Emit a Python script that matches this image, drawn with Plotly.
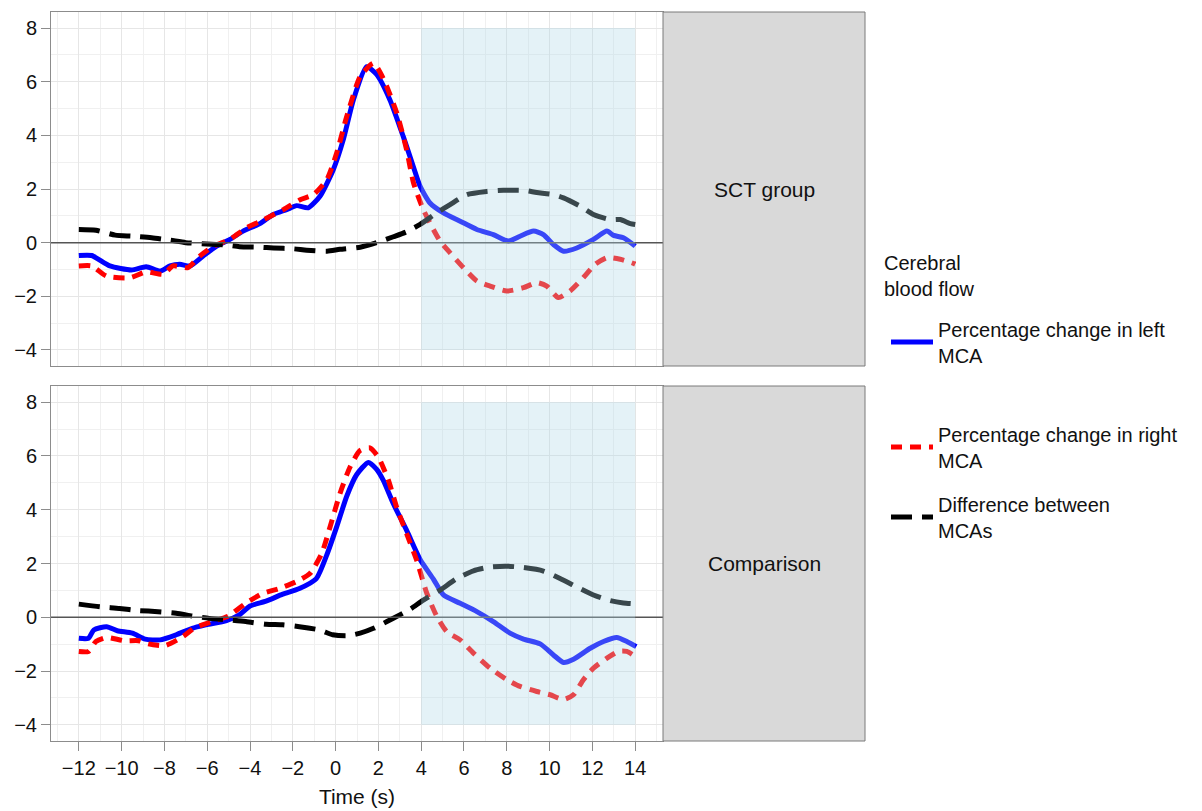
import plotly.graph_objects as go

W, H = 1202, 811
OFF = 8                      # browser body margin
FW, FH = W - OFF, H - OFF    # figure size so the page fits the window
FONT = "Liberation Sans, Arial, Helvetica, sans-serif"

# ---------------- data ----------------
sct_left_t = [-12, -11.4, -10.55, -9.54, -8.85, -8.2, -7.74, -7.28, -6.8, -6.19, -5.56, -4.94, -4.32, -3.54,
              -2.91, -2.29, -1.82, -1.28, -0.73, -0.11, 0.36, 0.83, 1.45, 1.92, 2.54, 3.16, 3.63, 3.95, 4.41,
              5.04, 5.82, 6.6, 7.37, 8.08, 8.62, 9.25, 9.71, 10.18, 10.65, 11.27, 12.05, 12.68, 12.99, 13.45, 14.0]
sct_left_v = [-0.48, -0.48, -0.87, -1.02, -0.9, -1.06, -0.87, -0.81, -0.87, -0.5, -0.13, 0.12, 0.43, 0.71,
              1.05, 1.23, 1.38, 1.3, 1.73, 2.72, 3.84, 5.32, 6.56, 6.27, 5.32, 3.96, 2.84, 2.1, 1.48,
              1.11, 0.8, 0.49, 0.3, 0.06, 0.24, 0.43, 0.3, -0.07, -0.32, -0.2, 0.12, 0.43, 0.27, 0.18, -0.13]

sct_right_t = [-12, -11.4, -10.7, -9.6, -8.85, -8.05, -7.6, -6.9, -6.35, -5.7, -4.94, -4.17, -3.38, -2.44,
               -1.66, -1.04, -0.41, 0.05, 0.52, 1.15, 1.77, 2.24, 2.86, 3.32, 3.64, 4.1, 4.57, 4.88, 5.35,
               5.97, 6.6, 7.22, 8.0, 8.78, 9.4, 9.87, 10.41, 10.96, 11.58, 12.13, 12.68, 13.3, 13.84, 14.0]
sct_right_v = [-0.87, -0.87, -1.25, -1.31, -1.09, -1.18, -0.87, -0.93, -0.5, -0.13, 0.12, 0.55, 0.85, 1.23,
               1.6, 1.79, 2.35, 3.34, 4.7, 6.19, 6.69, 6.1, 4.83, 3.46, 2.23, 1.23, 0.49, 0.06, -0.38,
               -0.93, -1.43, -1.62, -1.8, -1.68, -1.49, -1.62, -2.05, -1.8, -1.3, -0.81, -0.56, -0.62, -0.75, -0.8]

sct_diff_t = [-12, -11.2, -10.3, -9.5, -8.6, -7.74, -7.0, -6.04, -5.1, -4.5, -3.54, -2.9, -1.97, -1.35,
              -0.4, 0.2, 1.15, 1.92, 2.7, 3.3, 3.95, 4.73, 5.35, 6.13, 7.06, 7.84, 8.78, 9.4, 10.18,
              10.65, 11.43, 12.05, 12.83, 13.3, 13.77, 14.0]
sct_diff_v = [0.49, 0.46, 0.28, 0.24, 0.18, 0.09, 0.0, -0.05, -0.09, -0.15, -0.17, -0.2, -0.23, -0.28,
              -0.32, -0.25, -0.17, 0.0, 0.22, 0.4, 0.68, 1.11, 1.42, 1.79, 1.91, 1.95, 1.95, 1.87, 1.79,
              1.67, 1.36, 1.05, 0.86, 0.86, 0.71, 0.68]

cmp_left_t = [-12, -11.55, -11.3, -10.7, -10.2, -9.5, -8.9, -8.2, -7.45, -6.7, -6.05, -5.1, -4.5, -4.0,
              -3.25, -2.47, -1.69, -0.9, -0.42, 0.05, 0.52, 0.98, 1.53, 1.92, 2.23, 2.7, 3.32, 3.95, 4.57,
              5.04, 5.82, 6.6, 7.37, 8.15, 8.78, 9.56, 10.18, 10.65, 11.12, 11.9, 12.52, 13.14, 13.61, 14.05]
cmp_left_v = [-0.78, -0.78, -0.47, -0.35, -0.5, -0.59, -0.81, -0.84, -0.65, -0.41, -0.28, -0.12, 0.09, 0.42,
              0.6, 0.86, 1.07, 1.44, 2.3, 3.36, 4.5, 5.3, 5.76, 5.5, 5.09, 4.22, 3.23, 2.15, 1.42,
              0.83, 0.52, 0.21, -0.16, -0.59, -0.81, -0.99, -1.4, -1.68, -1.56, -1.15, -0.9, -0.75, -0.9, -1.09]

cmp_right_t = [-12, -11.55, -11.2, -10.7, -9.9, -9.2, -8.75, -7.97, -7.2, -6.56, -5.78, -5.0, -4.2, -3.4,
               -2.63, -1.85, -1.2, -0.65, -0.26, 0.2, 0.67, 1.14, 1.6, 2.0, 2.47, 2.85, 3.32, 3.79, 4.26,
               4.72, 5.19, 5.82, 6.44, 7.22, 8.0, 8.62, 9.4, 10.02, 10.65, 11.12, 11.58, 12.05, 12.68,
               13.22, 13.61, 14.0]
cmp_right_v = [-1.27, -1.27, -0.9, -0.75, -0.87, -0.87, -0.99, -1.05, -0.75, -0.38, -0.16, 0.05, 0.52, 0.89,
               1.07, 1.32, 1.63, 2.37, 3.36, 4.59, 5.58, 6.2, 6.3, 5.95, 5.09, 4.1, 3.11, 2.12, 0.9,
               0.05, -0.53, -0.84, -1.33, -1.89, -2.32, -2.57, -2.76, -2.88, -3.06, -2.88, -2.32, -1.89, -1.52,
               -1.27, -1.27, -1.46]

cmp_diff_t = [-12, -11.0, -10.1, -9.2, -8.3, -7.45, -6.7, -5.9, -5.0, -4.2, -3.25, -2.47, -1.69, -0.76,
              -0.14, 0.52, 1.15, 1.77, 2.4, 3.0, 3.48, 4.1, 4.88, 5.66, 6.44, 7.22, 8.0, 8.78, 9.71,
              10.49, 11.27, 12.05, 12.83, 13.45, 14.0]
cmp_diff_v = [0.49, 0.39, 0.33, 0.25, 0.21, 0.15, 0.05, -0.04, -0.1, -0.16, -0.26, -0.28, -0.35, -0.47,
              -0.65, -0.69, -0.59, -0.41, -0.16, 0.09, 0.3, 0.64, 1.01, 1.44, 1.73, 1.87, 1.9, 1.85, 1.72,
              1.44, 1.13, 0.83, 0.62, 0.53, 0.5]

panels = ["SCT group", "Comparison"]
legend_title = "Cerebral<br>blood flow"
series_names = ["Percentage change in left<br>MCA",
                "Percentage change in right<br>MCA",
                "Difference between<br>MCAs"]
x_ticks = list(range(-12, 15, 2))
y_ticks = list(range(-4, 9, 2))
window = (4, 14, -4, 8)   # highlighted window: x0, x1, y0, y1

# ---------------- layout geometry (screen pixels -> paper) ----------------
def px(x):
    return (x - OFF) / FW

def py(y):
    return 1 - (y - OFF) / FH

xdom = [px(51), px(663)]
ydoms = [[py(366), py(12)], [py(741), py(386)]]
strip_x = [px(663), px(865)]

fig = go.Figure()

styles = [
    dict(color="#0000ff", width=5, dash="solid", shape="spline", smoothing=0.6),
    dict(color="#ff0000", width=5, dash="11px,8px", shape="spline", smoothing=0.6),
    dict(color="#000000", width=5, dash="21px,10px", shape="spline", smoothing=0.6),
]
legends = ["legend", "legend2", "legend3"]

data = [
    [(sct_left_t, sct_left_v), (sct_right_t, sct_right_v), (sct_diff_t, sct_diff_v)],
    [(cmp_left_t, cmp_left_v), (cmp_right_t, cmp_right_v), (cmp_diff_t, cmp_diff_v)],
]

for p, panel in enumerate(data):
    xa = "x" if p == 0 else "x2"
    ya = "y" if p == 0 else "y2"
    for s, (t, v) in enumerate(panel):
        fig.add_trace(go.Scatter(
            x=t, y=v, mode="lines", name=series_names[s],
            line=styles[s], xaxis=xa, yaxis=ya,
            showlegend=(p == 0), legend=legends[s],
            hoverinfo="skip",
        ))

GRID = "#e6e6e6"
MINOR = "#f0f0f0"
BORDER = "#8c8c8c"
TICKC = "#8c8c8c"
TXT = "#111111"

def xaxis(domain, anchor, show_labels):
    return dict(
        domain=domain, anchor=anchor, range=[-13.3, 15.3],
        tickmode="array", tickvals=x_ticks,
        showticklabels=show_labels, ticks="outside" if show_labels else "",
        ticklen=9, tickcolor=TICKC, tickwidth=1,
        showgrid=True, gridcolor=GRID, gridwidth=1,
        minor=dict(dtick=1, tick0=1, showgrid=True, gridcolor=MINOR, gridwidth=1, ticks=""),
        showline=True, linecolor=BORDER, linewidth=1, mirror=True,
        zeroline=False,
        tickfont=dict(family=FONT, size=20, color=TXT),
    )

def yaxis(domain, anchor):
    return dict(
        domain=domain, anchor=anchor, range=[-4.6, 8.6],
        tickmode="array", tickvals=y_ticks,
        ticks="outside", ticklen=9, tickcolor=TICKC, tickwidth=1,
        showgrid=True, gridcolor=GRID, gridwidth=1,
        minor=dict(dtick=1, tick0=1, showgrid=True, gridcolor=MINOR, gridwidth=1, ticks=""),
        showline=True, linecolor=BORDER, linewidth=1, mirror=True,
        zeroline=False,
        tickfont=dict(family=FONT, size=20, color=TXT),
    )

x2 = xaxis(xdom, "y2", True)
x2["title"] = dict(text="Time (s)", font=dict(family=FONT, size=21, color=TXT), standoff=11)
x1 = xaxis(xdom, "y", False)
x1["matches"] = "x2"

shapes = []
annotations = []
for p in range(2):
    xr = "x" if p == 0 else "x2"
    yr = "y" if p == 0 else "y2"
    # zero line
    shapes.append(dict(type="line", xref=f"{xr} domain", yref=yr, x0=0, x1=1, y0=0, y1=0,
                       line=dict(color="#555555", width=1.5), layer="above"))
    # highlighted window (drawn on top, translucent)
    shapes.append(dict(type="rect", xref=xr, yref=yr, x0=window[0], x1=window[1],
                       y0=window[2], y1=window[3], fillcolor="rgba(173,216,230,0.33)",
                       line=dict(width=0), layer="above"))
    # facet strip
    shapes.append(dict(type="rect", xref="paper", yref=f"{yr} domain",
                       x0=strip_x[0], x1=strip_x[1], y0=0, y1=1,
                       fillcolor="#d9d9d9", line=dict(color="#7a7a7a", width=1), layer="above"))
    annotations.append(dict(text=panels[p], xref="paper", yref=f"{yr} domain",
                            x=(strip_x[0] + strip_x[1]) / 2, y=0.5, showarrow=False,
                            xanchor="center", yanchor="middle",
                            font=dict(family=FONT, size=21, color=TXT)))

legfont = dict(family=FONT, size=20, color=TXT)

# legend title
annotations.append(dict(text=legend_title, xref="paper", yref="paper",
                        x=px(882), y=py(250), xanchor="left", yanchor="top",
                        align="left", showarrow=False, font=legfont))

common_leg = dict(font=legfont, bgcolor="rgba(0,0,0,0)", borderwidth=0,
                  xanchor="left", yanchor="middle", itemwidth=42,
                  itemclick=False, itemdoubleclick=False)

LX = px(886)
fig.update_layout(
    width=FW, height=FH,
    margin=dict(l=0, r=0, t=0, b=0),
    paper_bgcolor="white", plot_bgcolor="white",
    font=dict(family=FONT, size=19, color=TXT),
    xaxis=x1, yaxis=yaxis(ydoms[0], "x"),
    xaxis2=x2, yaxis2=yaxis(ydoms[1], "x2"),
    shapes=shapes, annotations=annotations,
    legend=dict(**common_leg, x=LX, y=py(342)),
    legend2=dict(**common_leg, x=LX, y=py(447)),
    legend3=dict(**common_leg, x=LX, y=py(517)),
)

fig.write_html("out.html")
